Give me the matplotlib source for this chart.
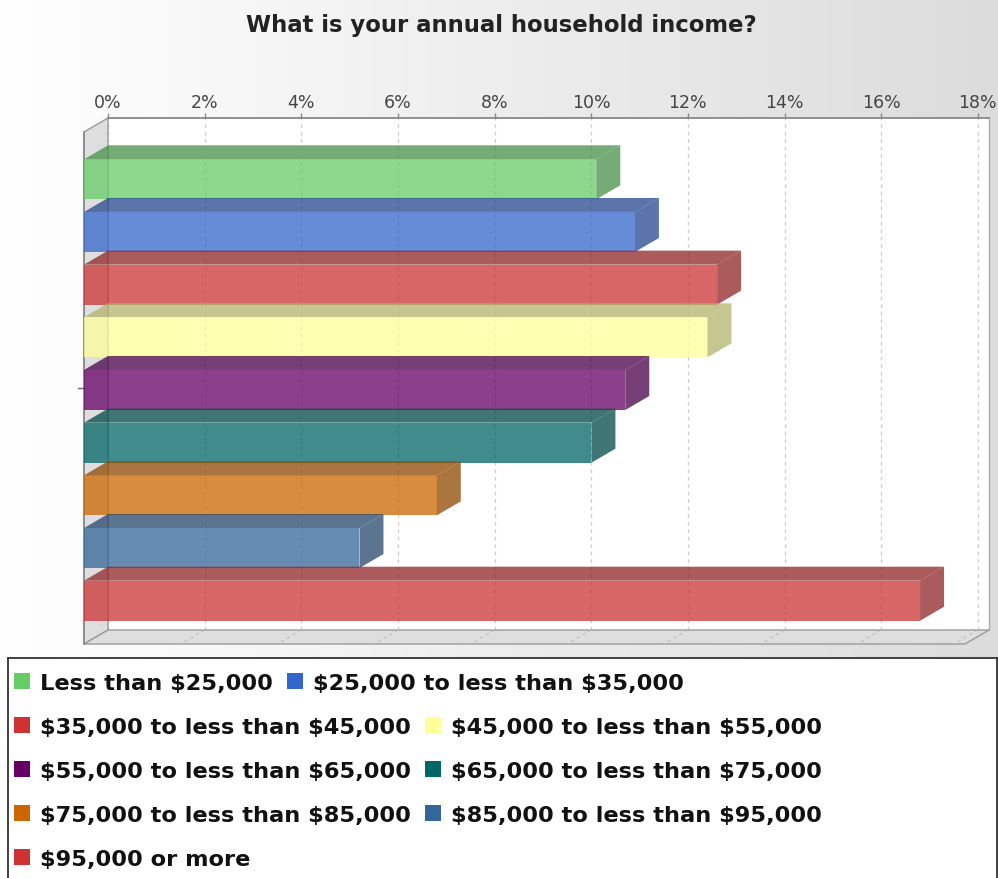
import numpy as np
import matplotlib
matplotlib.use("Agg")
import matplotlib.pyplot as plt
from matplotlib.patches import Polygon, Rectangle
from matplotlib.colors import LinearSegmentedColormap, to_rgb

# ---- data -------------------------------------------------------------
categories = [
    "Less than $25,000",
    "$25,000 to less than $35,000",
    "$35,000 to less than $45,000",
    "$45,000 to less than $55,000",
    "$55,000 to less than $65,000",
    "$65,000 to less than $75,000",
    "$75,000 to less than $85,000",
    "$85,000 to less than $95,000",
    "$95,000 or more",
]
shares = [10.6, 11.4, 13.1, 12.9, 11.2, 10.5, 7.3, 5.7, 17.3]
series_colors = ["#66cc66", "#3366cc", "#cc3333", "#ffff99", "#660066",
                 "#006666", "#cc6600", "#336699", "#cc3333"]
tick_values = [0, 2, 4, 6, 8, 10, 12, 14, 16, 18]
tick_labels = [f"{t}%" for t in tick_values]
title = "What is your annual household income?"
legend_rows = [[0, 1], [2, 3], [4, 5], [6, 7], [8]]

# ---- figure -----------------------------------------------------------
W, H, DPI = 998, 879, 100
fig = plt.figure(figsize=(W / DPI, H / DPI), dpi=DPI)


def px_rect(left, top, right, bottom):
    return [left / W, 1 - bottom / H, (right - left) / W, (bottom - top) / H]


# horizontal grey gradient behind the chart
bg = fig.add_axes([0, 0, 1, 1], zorder=0)
bg_cmap = LinearSegmentedColormap.from_list("bg", ["#ffffff", "#dcdcdc"])
bg.imshow(np.linspace(0, 1, 256)[None, :], aspect="auto", cmap=bg_cmap,
          extent=[0, 1, 0, 1])
bg.axis("off")

# plot axes = back wall of the 3D box
ax = fig.add_axes(px_rect(108, 119, 989, 631), zorder=1)
X_MAX = 18.23
Y_TOP, Y_BOT = -0.898, 8.822
ax.set_xlim(0, X_MAX)
ax.set_ylim(Y_BOT, Y_TOP)
ax.set_facecolor("white")

# depth of the 3D effect, in pixels, converted to data units
DEPTH_X, DEPTH_Y = 24, 14
inv = ax.transData.inverted()
origin = ax.transData.transform((0, 0))
fx, fy = inv.transform(origin + np.array([-DEPTH_X, -DEPTH_Y]))
px_x = ax.transData.transform((1, 0))[0] - origin[0]  # pixels per percent

# dashed gridlines on the back wall
ax.set_axisbelow(True)
ax.grid(axis="x", color="#cccccc", linestyle=(0, (3, 3)), linewidth=0.9)
ax.grid(axis="y", visible=False)

# left wall and floor
wall_kw = dict(facecolor="#dedede", edgecolor="#9a9a9a", linewidth=1.0,
               clip_on=False, zorder=1.5)
ax.add_patch(Polygon([(0, Y_TOP), (0, Y_BOT), (fx, Y_BOT + fy), (fx, Y_TOP + fy)],
                     closed=True, **wall_kw))
ax.add_patch(Polygon([(0, Y_BOT), (X_MAX, Y_BOT), (X_MAX + fx, Y_BOT + fy),
                      (fx, Y_BOT + fy)], closed=True, **wall_kw))
# gridlines carried across the floor
for t in tick_values[1:]:
    ax.plot([t, t + fx], [Y_BOT, Y_BOT + fy], color="#bdbdbd",
            linestyle=(0, (3, 3)), linewidth=0.8, clip_on=False, zorder=1.6)
# front edge of the left wall
ax.plot([fx, fx], [Y_TOP + fy, Y_BOT + fy], color="#888888", linewidth=1.2,
        clip_on=False, zorder=1.7)

# 3D bars
BAR_H = 0.76
ALPHA = 0.75
for i, (v, c) in enumerate(zip(shares, series_colors)):
    base = np.array(to_rgb(c))
    dark = base * 0.7
    top, bot = i - BAR_H / 2, i + BAR_H / 2
    z = 3 + i * 0.01
    # top face
    ax.add_patch(Polygon([(fx, top + fy), (v + fx, top + fy), (v, top), (0, top)],
                         closed=True, facecolor=(*dark, ALPHA), edgecolor="none",
                         clip_on=False, zorder=z))
    # right side face
    ax.add_patch(Polygon([(v + fx, top + fy), (v, top), (v, bot), (v + fx, bot + fy)],
                         closed=True, facecolor=(*dark, ALPHA), edgecolor="none",
                         clip_on=False, zorder=z))
    # front face
    ax.add_patch(Rectangle((fx, top + fy), v, BAR_H, facecolor=(*base, ALPHA),
                           edgecolor="none", clip_on=False, zorder=z + 0.001))

# single category tick on the front-left edge
mid = (Y_TOP + Y_BOT) / 2 + fy
ax.plot([fx - 6 / px_x, fx], [mid, mid], color="#666666", linewidth=1.0,
        clip_on=False, zorder=2)

# value axis along the top of the back wall
ax.xaxis.set_ticks_position("top")
ax.set_xticks(tick_values)
ax.set_xticklabels(tick_labels)
ax.tick_params(axis="x", direction="out", length=3.6, width=1.0, color="#888888",
               labelsize=12.5, labelcolor="#444444", pad=1.5)
ax.set_yticks([])
for side in ("left", "bottom"):
    ax.spines[side].set_visible(False)
ax.spines["top"].set_color("#888888")
ax.spines["top"].set_linewidth(1.3)
ax.spines["right"].set_color("#aaaaaa")
ax.spines["right"].set_linewidth(1.0)

# title
fig.text(501 / W, 1 - 32 / H, title, ha="center", va="baseline",
         fontsize=16.4, fontweight="bold", color="#222222", family="DejaVu Sans")

# legend box
leg = fig.add_axes(px_rect(8, 659, 997, H), zorder=2)
leg.set_facecolor("white")
leg.set_xticks([])
leg.set_yticks([])
for side in ("left", "top", "right"):
    leg.spines[side].set_color("#333333")
    leg.spines[side].set_linewidth(1.3)
leg.spines["bottom"].set_visible(False)

renderer = fig.canvas.get_renderer()
SW = 16
for r, row in enumerate(legend_rows):
    baseline = 690 + 44 * r
    x = 14
    for k in row:
        fig.add_artist(Rectangle((x / W, 1 - baseline / H), SW / W, SW / H,
                                 transform=fig.transFigure,
                                 facecolor=series_colors[k], edgecolor="none",
                                 zorder=3))
        txt = fig.text((x + 26) / W, 1 - baseline / H, categories[k],
                       ha="left", va="baseline", fontsize=16.2,
                       fontweight="bold", color="#111111", zorder=3,
                       family="DejaVu Sans", parse_math=False)
        ext = txt.get_window_extent(renderer)
        x = ext.x1 + 14

fig.savefig("out.png", dpi=DPI)
